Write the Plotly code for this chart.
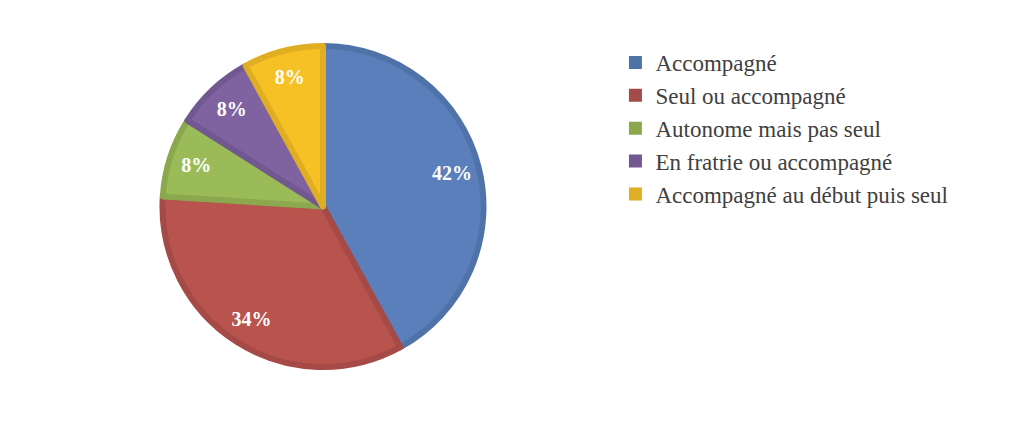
import plotly.graph_objects as go

labels = ["Accompagné", "Seul ou accompagné", "Autonome mais pas seul",
          "En fratrie ou accompagné", "Accompagné au début puis seul"]
values = [42, 34, 8, 8, 8]
fill_colors = ["#5A7FBB", "#B8534D", "#9BBB59", "#7F62A0", "#F5C125"]
edge_colors = ["#4F72A8", "#A54A46", "#8BA84F", "#715890", "#E0AE22"]

cx, cy, R = 323, 206.5, 160.5
dom = dict(x=[(cx - R) / 1024, (cx + R) / 1024], y=[1 - (cy + R) / 422, 1 - (cy - R) / 422])

fig = go.Figure()
# coloured slices
fig.add_trace(go.Pie(
    labels=labels, values=values, sort=False, direction="clockwise", rotation=0,
    marker=dict(colors=fill_colors, line=dict(color=edge_colors, width=6)),
    textinfo="none", showlegend=False, hoverinfo="label+percent", domain=dom,
))
# transparent ring carrying the percentage labels near the outer edge
fig.add_trace(go.Pie(
    labels=labels, values=values, sort=False, direction="clockwise", rotation=0, hole=0.66,
    marker=dict(colors=["rgba(0,0,0,0)"] * len(values), line=dict(width=0)),
    texttemplate="%{value}%", textposition="inside", insidetextorientation="horizontal",
    textfont=dict(family="Liberation Serif", size=20, color="white", weight="bold"),
    showlegend=False, hoverinfo="skip", domain=dom,
))
for lab, col in zip(labels, edge_colors):
    fig.add_trace(go.Scatter(
        x=[None], y=[None], mode="markers", name=lab, legendgroup=lab,
        marker=dict(symbol="square", size=13, color=col), showlegend=True,
    ))

fig.update_layout(
    width=1024, height=422, margin=dict(l=0, r=0, t=0, b=0),
    paper_bgcolor="white", plot_bgcolor="white",
    xaxis=dict(visible=False), yaxis=dict(visible=False),
    legend=dict(x=0.601, y=0.903, xanchor="left", yanchor="top",
                font=dict(family="Liberation Serif", size=23, color="#404040"),
                tracegroupgap=0, bgcolor="rgba(0,0,0,0)"),
)
fig.write_html("out.html")
